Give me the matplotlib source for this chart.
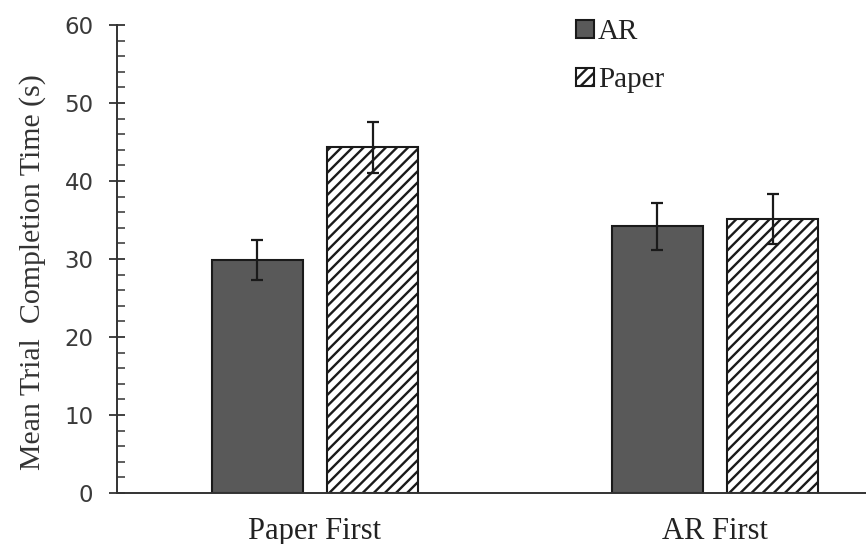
import matplotlib.pyplot as plt
import numpy as np
from matplotlib.ticker import MultipleLocator

# data
groups = ['Paper First', 'AR First']
series = ['AR', 'Paper']
ar_mean = [29.9, 34.2]
ar_err = [2.6, 3.0]
paper_mean = [44.3, 35.1]
paper_err = [3.3, 3.2]

plt.rcParams['hatch.linewidth'] = 1.7
plt.rcParams['hatch.color'] = '#333333'

fig = plt.figure(figsize=(8.66, 5.44), dpi=100)
ax = fig.add_axes([0.1351, 0.0938, 0.8649, 0.8602])

x = np.arange(len(groups))
width = 0.228
offset = 0.144

ax.bar(x - offset, ar_mean, width, color='#595959', edgecolor='#1a1a1a',
       linewidth=1.5, label=series[0], zorder=2)
ax.bar(x + offset, paper_mean, width, color='white', edgecolor='#1a1a1a',
       hatch='///', linewidth=1.5, label=series[1], zorder=2)

ax.errorbar(x - offset, ar_mean, yerr=ar_err, fmt='none', ecolor='#1a1a1a',
            elinewidth=1.6, capsize=4, capthick=1.6, zorder=3)
ax.errorbar(x + offset, paper_mean, yerr=paper_err, fmt='none', ecolor='#1a1a1a',
            elinewidth=1.6, capsize=4, capthick=1.6, zorder=3)

ax.set_xlim(-0.495, 1.3775)
ax.set_ylim(0, 60)
ax.yaxis.set_major_locator(MultipleLocator(10))
ax.yaxis.set_minor_locator(MultipleLocator(2))

ax.spines['top'].set_visible(False)
ax.spines['right'].set_visible(False)
for s in ('left', 'bottom'):
    ax.spines[s].set_linewidth(1.4)
    ax.spines[s].set_color('#333333')

ax.tick_params(axis='y', which='major', direction='inout', length=12, width=1.3,
               color='#333333', pad=11, labelsize=16.5, labelcolor='#3a3a3a')
ax.tick_params(axis='y', which='minor', direction='in', length=6, width=1.1,
               color='#333333')
for lab in ax.get_yticklabels():
    lab.set_family('DejaVu Sans')

ax.set_xticks(x)
ax.set_xticklabels(groups, family='Liberation Serif', fontsize=22, color='#222222')
ax.tick_params(axis='x', length=0, pad=17)

ax.set_ylabel('Mean Trial  Completion Time (s)', family='Liberation Serif',
              fontsize=21.5, color='#333333')
ax.yaxis.set_label_coords(0.053, 0.5, transform=fig.transFigure)

leg = ax.legend(loc='upper left', bbox_to_anchor=(0.635, 1.013),
                bbox_transform=fig.transFigure, frameon=False,
                prop={'family': 'Liberation Serif', 'size': 21},
                handlelength=0.6, handleheight=0.55, handletextpad=0.15,
                labelspacing=0.75)
for t in leg.get_texts():
    t.set_color('#222222')

fig.savefig('out.png', dpi=100)
